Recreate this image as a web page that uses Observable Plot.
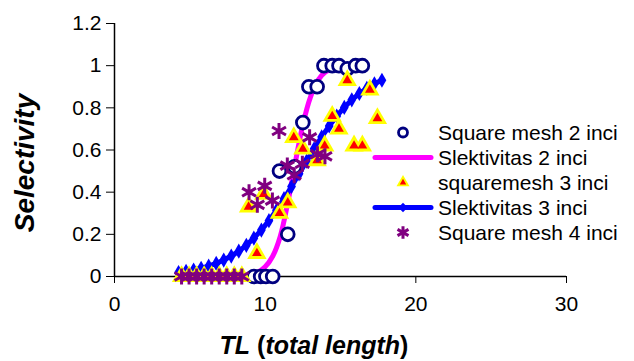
<!DOCTYPE html>
<html><head><meta charset="utf-8">
<script src="https://cdn.jsdelivr.net/npm/d3@7"></script>
<script src="https://cdn.jsdelivr.net/npm/@observablehq/plot@0.6"></script>
<style>
body{margin:0;background:#fff;}
#wrap{position:relative;width:634px;height:361px;font-family:"Liberation Sans",Arial,sans-serif;}
#legend{position:absolute;left:373px;top:120px;font-size:21px;color:#000;line-height:25px;}
.row{display:flex;align-items:center;height:25px;white-space:nowrap;}
.row svg{width:60px;height:25px;margin-right:5px;overflow:visible;flex:none;}
</style></head><body><div id="wrap"><div id="legend"></div></div>
<script>
// ---- data ----
const xTicks = [0, 10, 20, 30];
const xTickLabels = ["0", "10", "20", "30"];
const yTicks = [0, 0.2, 0.4, 0.6, 0.8, 1, 1.2];
const yTickLabels = ["0", "0.2", "0.4", "0.6", "0.8", "1", "1.2"];

// Square mesh 2 inci (observed)
const sq2TL  = [9.25, 9.7, 10.05, 10.5, 10.95, 11.5, 11.95, 12.5, 12.9, 13.45, 13.9, 14.45, 14.9, 15.45, 16.0, 16.45];
const sq2Sel = [0, 0, 0, 0, 0.5, 0.2, 0.52, 0.73, 0.9, 0.9, 1, 1, 1, 0.985, 1, 1];

// Slektivitas 2 inci (fitted curve)
const sel2TL = [9.0, 9.5, 10.0, 10.5, 11.0, 11.5, 12.0, 12.5, 13.0, 13.5, 14.0, 14.5, 15.0, 15.5, 16.0, 16.5];
const sel2   = [0.01, 0.02, 0.046, 0.096, 0.19, 0.35, 0.54, 0.72, 0.85, 0.93, 0.97, 0.985, 0.993, 0.997, 0.999, 1.0];

// squaremesh 3 inci (observed)
const sq3TL  = [4.45, 4.95, 5.45, 5.95, 6.45, 6.95, 7.45, 7.95, 8.45, 8.9, 9.45, 9.9, 10.95, 11.5, 11.9, 12.5, 13.45, 13.95, 14.45, 14.9, 15.45, 15.9, 16.45, 16.95, 17.45];
const sq3Sel = [0, 0, 0, 0, 0, 0, 0, 0, 0, 0.33, 0.11, 0.39, 0.30, 0.35, 0.66, 0.605, 0.55, 0.62, 0.76, 0.70, 0.93, 0.62, 0.62, 0.885, 0.75];

// Slektivitas 3 inci (fitted curve with markers)
const sel3TL = [4.25, 4.75, 5.25, 5.75, 6.25, 6.75, 7.25, 7.75, 8.25, 8.75, 9.25, 9.75, 10.25, 10.75, 11.25, 11.75, 12.25, 12.75, 13.25, 13.75, 14.25, 14.75, 15.25, 15.75, 16.25, 16.75, 17.25, 17.75];
const sel3   = [0.019, 0.025, 0.031, 0.039, 0.049, 0.062, 0.078, 0.097, 0.12, 0.148, 0.182, 0.22, 0.265, 0.314, 0.369, 0.427, 0.487, 0.547, 0.606, 0.662, 0.714, 0.761, 0.802, 0.838, 0.868, 0.893, 0.914, 0.931];

// Square mesh 4 inci (observed)
const sq4TL  = [4.45, 4.95, 5.45, 5.95, 6.45, 6.95, 7.45, 7.95, 8.45, 8.93, 9.48, 9.97, 10.48, 10.92, 11.47, 11.93, 12.47, 12.95, 13.47, 13.97];
const sq4Sel = [0, 0, 0, 0, 0, 0, 0, 0, 0, 0.40, 0.34, 0.43, 0.36, 0.69, 0.526, 0.48, 0.535, 0.66, 0.58, 0.57];

const legendLabels = ["Square mesh 2 inci", "Slektivitas 2 inci", "squaremesh 3 inci", "Slektivitas 3 inci", "Square mesh 4 inci"];
const xTitle = [["TL", true], [" (", false], ["total length", true], [")", false]];
const yTitle = "Selectivity";

// ---- build tables ----
const zip = (xs, ys) => xs.map((x, i) => ({x, y: ys[i]}));
const sq2 = zip(sq2TL, sq2Sel);
const c2 = zip(sel2TL, sel2);
const sq3 = zip(sq3TL, sq3Sel);
const c3 = zip(sel3TL, sel3);
const sq4 = zip(sq4TL, sq4Sel);

const NAVY = "#000080", MAG = "#FF00FF", YEL = "#FFFF00", RED = "#FF0000", BLUE = "#0000FF", PUR = "#800080";

const chart = Plot.plot({
  width: 634, height: 361,
  marginLeft: 114, marginRight: 68, marginTop: 23, marginBottom: 85,
  style: {fontFamily: "Liberation Sans, Arial, sans-serif", fontSize: "21px", color: "#000", background: "#fff", overflow: "visible"},
  x: {domain: [0, 30], ticks: xTicks, tickFormat: d => xTickLabels[xTicks.indexOf(d)], tickSize: 7, tickPadding: 13, label: null},
  y: {domain: [0, 1.2], ticks: yTicks, tickFormat: d => yTickLabels[yTicks.indexOf(d)], tickSize: 8, tickPadding: 5, label: null},
  marks: [
    Plot.ruleY([0], {stroke: "#000", strokeWidth: 1.5}),
    Plot.ruleX([0], {stroke: "#000", strokeWidth: 1.5}),
    Plot.line(c2, {x: "x", y: "y", stroke: MAG, strokeWidth: 5, curve: "catmull-rom"}),
    Plot.line(c3, {x: "x", y: "y", stroke: BLUE, strokeWidth: 5}),
    Plot.dot(c3, {x: "x", y: "y", symbol: "diamond", r: 4.6, fill: BLUE}),
    Plot.dot(sq2, {x: "x", y: "y", r: 6.4, stroke: NAVY, strokeWidth: 2.8, fill: "#fff"}),
    Plot.dot(sq3, {x: "x", y: "y", symbol: "triangle", r: 7.2, fill: YEL}),
    Plot.dot(sq3, {x: "x", y: "y", symbol: "triangle", r: 3.6, fill: RED}),
    Plot.dot(sq4, {x: "x", y: "y", symbol: "asterisk", r: 7.6, stroke: PUR, strokeWidth: 3})
  ]
});

const svg = d3.select(chart);
// x title with mixed italic
const xt = svg.append("text")
  .attr("x", 314).attr("y", 354)
  .attr("text-anchor", "middle")
  .attr("font-size", 25).attr("font-weight", "bold")
  .attr("font-family", "Liberation Sans, Arial, sans-serif")
  .attr("fill", "#000");
xTitle.forEach(([t, it]) => xt.append("tspan").attr("font-style", it ? "italic" : "normal").text(t));
// y title
svg.append("text")
  .attr("transform", "translate(34,163) rotate(-90)")
  .attr("text-anchor", "middle")
  .attr("font-size", 28).attr("font-weight", "bold").attr("font-style", "italic")
  .attr("font-family", "Liberation Sans, Arial, sans-serif")
  .attr("fill", "#000")
  .text(yTitle);

document.getElementById("wrap").prepend(chart);

// ---- legend ----
const legend = d3.select("#legend");
const sym = (type, r) => d3.symbol(type, Math.PI * r * r)();
const drawers = [
  g => g.append("path").attr("d", sym(d3.symbolCircle, 4.5)).attr("transform", "translate(30,12.5)").attr("fill", "#fff").attr("stroke", NAVY).attr("stroke-width", 2.8),
  g => g.append("line").attr("x1", 2).attr("x2", 58).attr("y1", 12.5).attr("y2", 12.5).attr("stroke", MAG).attr("stroke-width", 5).attr("stroke-linecap", "round"),
  g => { g.append("path").attr("d", sym(d3.symbolTriangle2, 6.2)).attr("transform", "translate(30,12.5)").attr("fill", YEL);
         g.append("path").attr("d", sym(d3.symbolTriangle2, 3.1)).attr("transform", "translate(30,12.5)").attr("fill", RED); },
  g => { g.append("line").attr("x1", 2).attr("x2", 58).attr("y1", 12.5).attr("y2", 12.5).attr("stroke", BLUE).attr("stroke-width", 5).attr("stroke-linecap", "round");
         g.append("path").attr("d", sym(d3.symbolDiamond2, 4.2)).attr("transform", "translate(30,12.5)").attr("fill", BLUE); },
  g => g.append("path").attr("d", sym(d3.symbolAsterisk, 6)).attr("transform", "translate(30,12.5)").attr("stroke", PUR).attr("stroke-width", 3)
];
legendLabels.forEach((lab, i) => {
  const row = legend.append("div").attr("class", "row");
  const s = row.append("svg");
  drawers[i](s);
  row.append("span").text(lab);
});
</script>
</body></html>
